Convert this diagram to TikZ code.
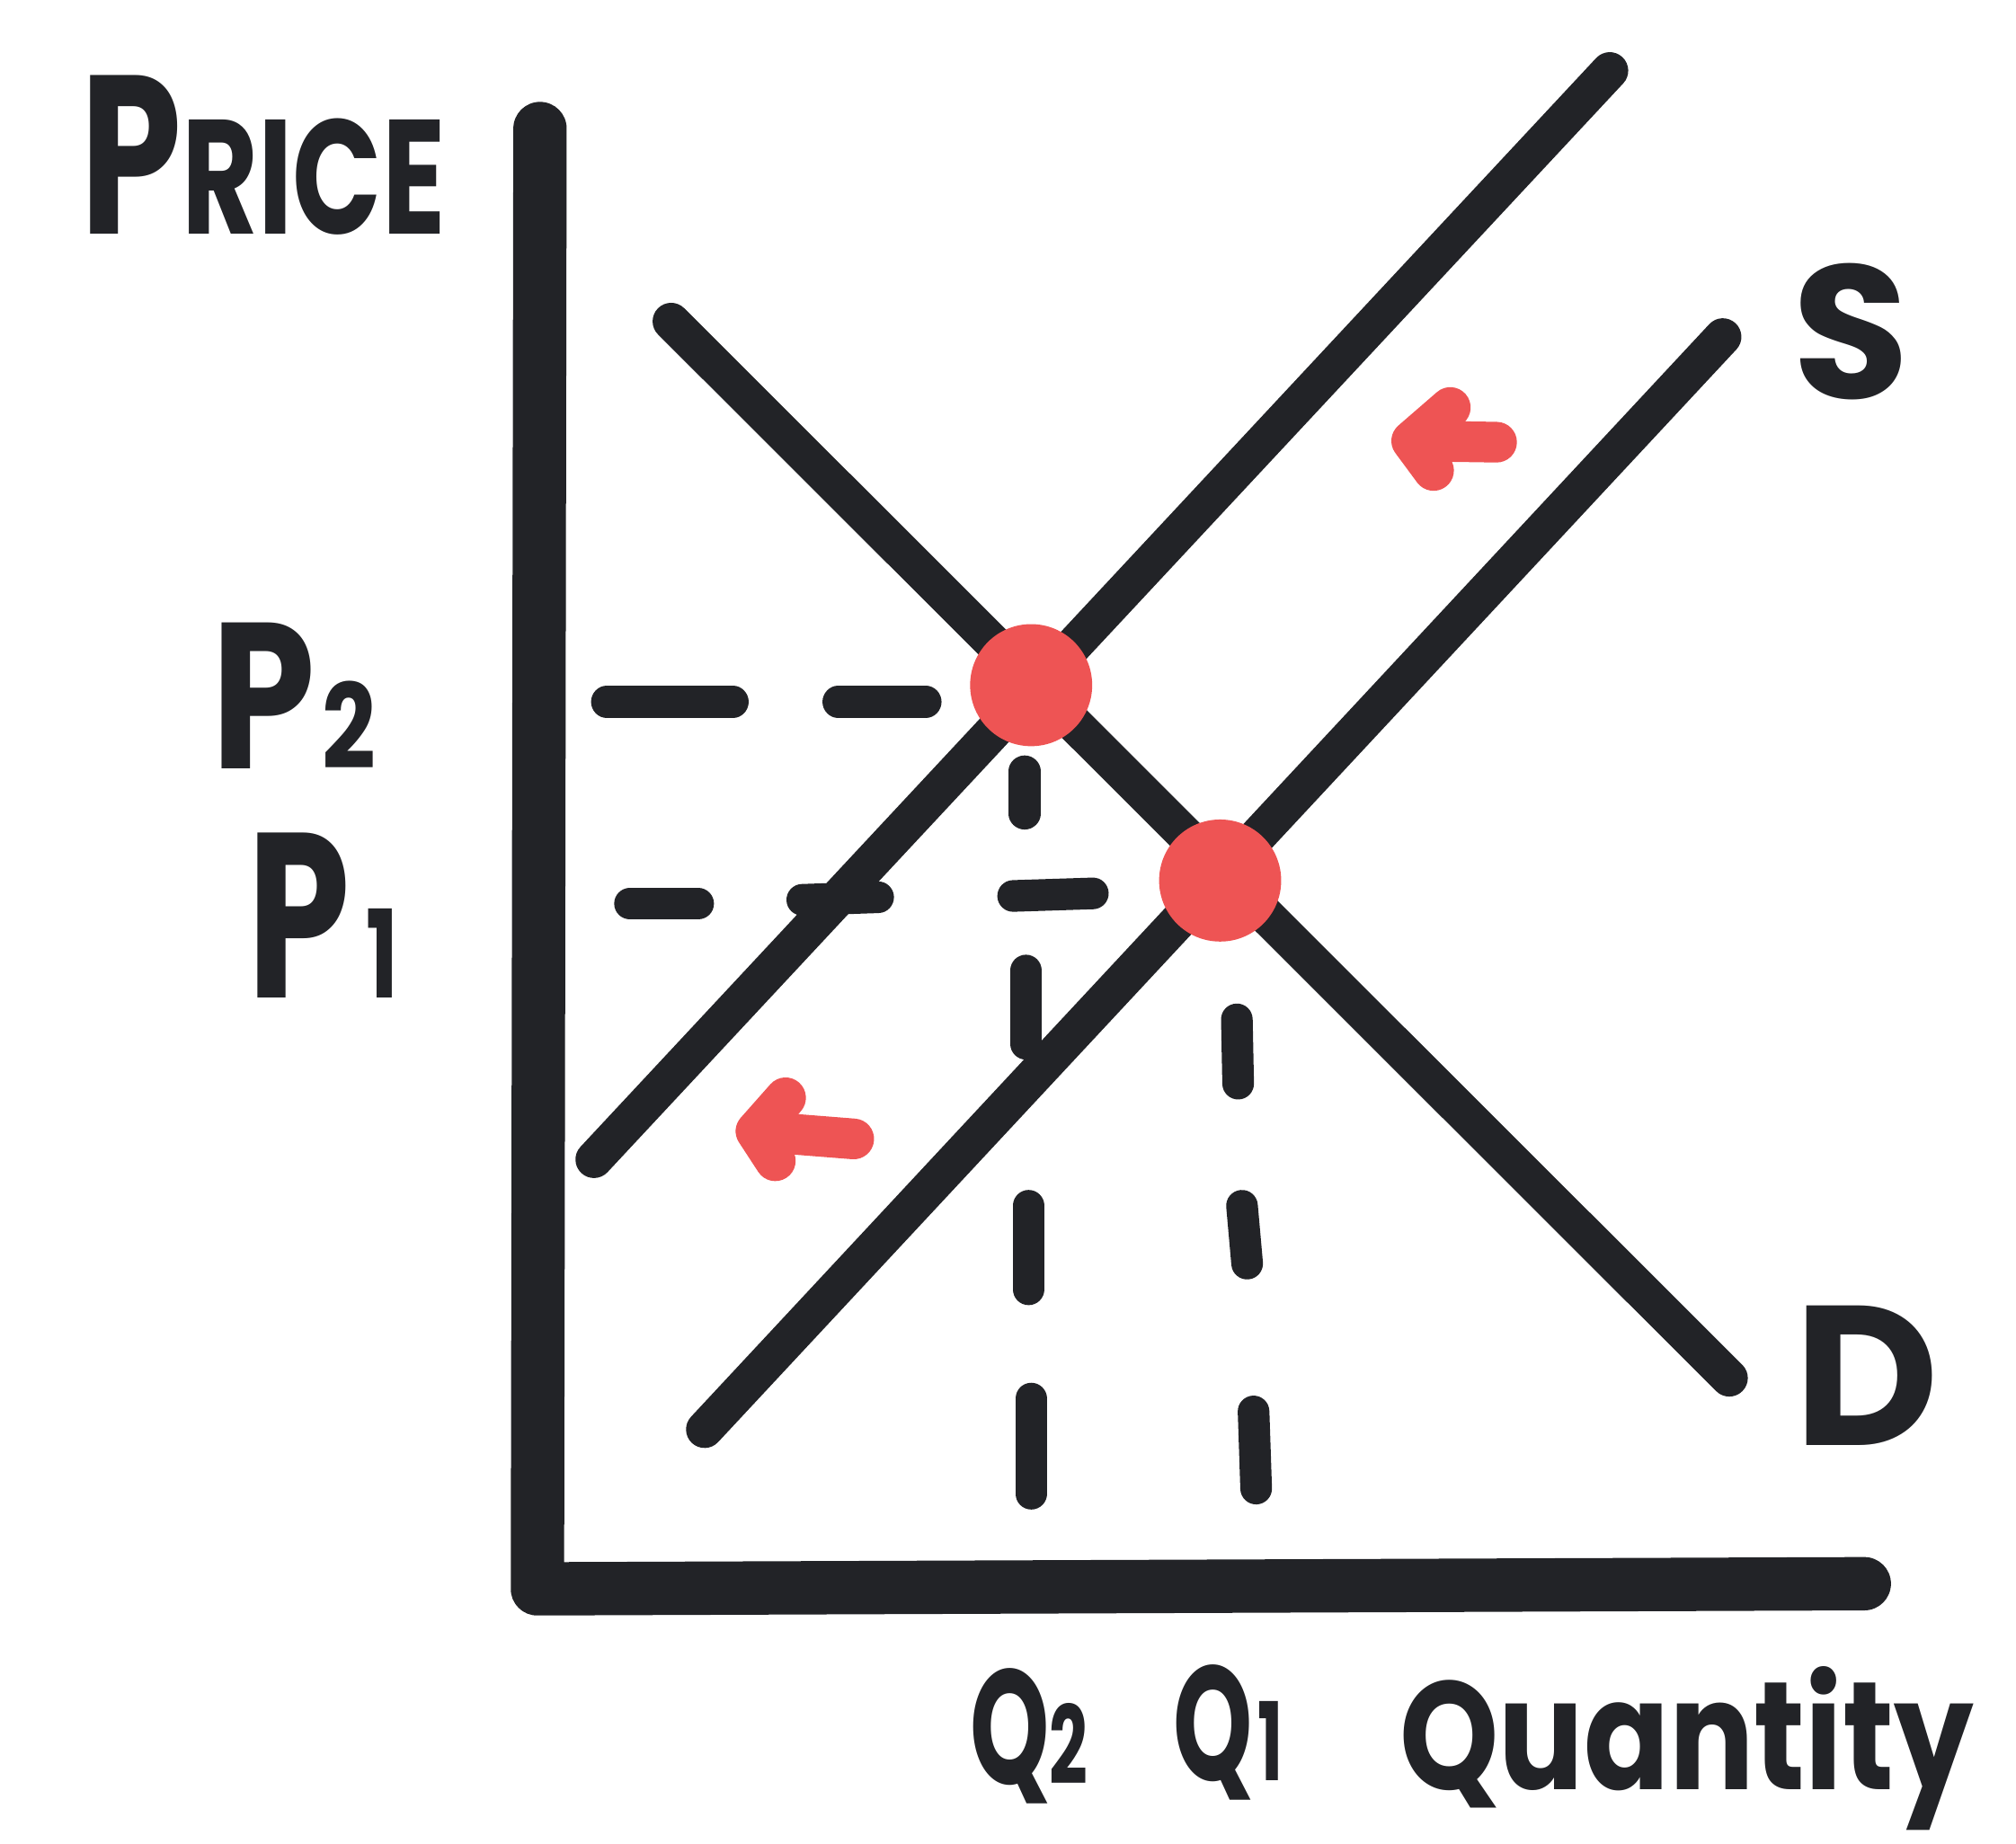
\documentclass[tikz,border=0pt]{standalone}
\usepackage{fontspec}
\setmainfont{Poppins}
\usepackage{tikz}
\definecolor{ink}{HTML}{222327}
\definecolor{shiftred}{HTML}{EE5454}

\begin{document}
\begin{tikzpicture}[x=0.01cm,y=-0.01cm,
  axis/.style={line width=11.8pt,ink,line cap=round,line join=round},
  curve/.style={line width=8.2pt,ink,line cap=round},
  guide/.style={line width=7pt,ink,line cap=round},
  shiftarrow/.style={line width=9pt,shiftred,line cap=round,line join=round},
  eqdot/.style={circle,fill=shiftred,inner sep=0pt,minimum size=27pt},
  lbl/.style={inner sep=0pt,text=ink,font=\bfseries},
]
\useasboundingbox (0,0) rectangle (1568,1434);
% axes
\coordinate (origin) at (418,1236);
\coordinate (ytop) at (420,100);
\coordinate (xend) at (1450,1232);
\draw[axis] (ytop) -- (origin) -- (xend);
% guide dashes
\foreach \xa/\ya/\xb/\yb in {472/546/570/546, 652/546/720/546,
  490/703/543/703, 624/700/683/698, 788/697/850/695}
  \draw[guide] (\xa,\ya) -- (\xb,\yb);
\foreach \xa/\ya/\xb/\yb in {797/600/797/633, 798/755/798/812,
  800/938/800/1003, 802/1088/802/1162,
  962/793/963/843, 966/938/970/983, 975/1098/977/1158}
  \draw[guide] (\xa,\ya) -- (\xb,\yb);
% demand and supply
\coordinate (dtop) at (522,250);
\coordinate (dbot) at (1345,1072);
\coordinate (snewbot) at (462,902);
\coordinate (snewtop) at (1252,55);
\coordinate (soldbot) at (548,1112);
\coordinate (soldtop) at (1340,262);
\draw[curve] (dtop) -- (dbot);
\draw[curve] (snewbot) -- (snewtop);
\draw[curve] (soldbot) -- (soldtop);
% equilibria
\node[eqdot] (eqnew) at (802,533) {};
\node[eqdot] (eqold) at (949,685) {};
% shift arrows
\coordinate (upTail) at (1164,344);
\coordinate (upTip) at (1098,343);
\coordinate (upArmA) at (1128,317);
\coordinate (upArmB) at (1115,366);
\draw[shiftarrow] (upTail) -- (upTip) (upArmA) -- (upTip) -- (upArmB);
\coordinate (loTail) at (664,886);
\coordinate (loTip) at (588,880);
\coordinate (loArmA) at (611,854);
\coordinate (loArmB) at (603,903);
\draw[shiftarrow] (loTail) -- (loTip) (loArmA) -- (loTip) -- (loArmB);
% labels
\node[lbl,anchor=base west,xscale=0.72] (price) at (62,182)
  {\fontsize{50}{50}\selectfont P\fontsize{36}{36}\selectfont RICE};
\node[lbl,anchor=base west,xscale=0.8] (ptwo) at (164,598)
  {\fontsize{46}{46}\selectfont P\kern2pt\fontsize{26}{26}\selectfont 2};
\node[lbl,anchor=base west,xscale=0.7] (pone) at (192,776)
  {\fontsize{52}{52}\selectfont P\kern5pt\fontsize{27}{27}\selectfont 1};
\node[lbl,font=\bfseries\fontsize{42}{42}\selectfont] (slbl) at (1440,258) {S};
\node[lbl,font=\bfseries\fontsize{44}{44}\selectfont] (dlbl) at (1452,1070) {D};
\node[lbl,anchor=base west,xscale=0.62] (qtwo) at (754,1388)
  {\fontsize{36}{36}\selectfont Q\fontsize{24}{24}\selectfont 2};
\node[lbl,anchor=base west,xscale=0.62] (qone) at (912,1385)
  {\fontsize{36}{36}\selectfont Q\kern2pt\fontsize{24}{24}\selectfont 1};
\node[lbl,anchor=base west,xscale=0.82] (qty) at (1088,1392)
  {\fontsize{34}{34}\selectfont Quantity};
\end{tikzpicture}
\end{document}
